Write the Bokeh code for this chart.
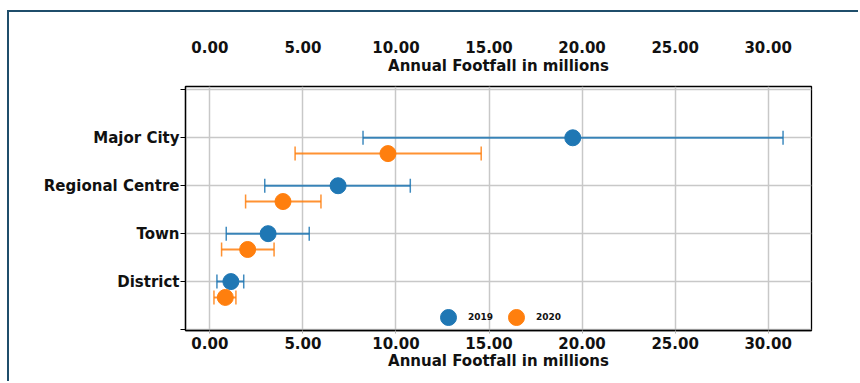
import math

from bokeh.plotting import figure
from bokeh.models import (FixedTicker, LinearAxis, PrintfTickFormatter,
                          Legend, LegendItem, ColumnDataSource)
from bokeh.embed import file_html
from bokeh.resources import INLINE

# Annual footfall (millions): central estimate with low/high range
categories = ["District", "Town", "Regional Centre", "Major City"]
years = ["2019", "2020"]
mid_2019 = [1.13, 3.13, 6.89, 19.50]
low_2019 = [0.38, 0.88, 2.95, 8.23]
high_2019 = [1.82, 5.34, 10.77, 30.80]
mid_2020 = [0.83, 2.03, 3.93, 9.57]
low_2020 = [0.22, 0.63, 1.92, 4.58]
high_2020 = [1.40, 3.45, 5.97, 14.58]
x_ticks = [0, 5, 10, 15, 20, 25, 30]
x_title = "Annual Footfall in millions"

FONT = "DejaVu Sans"
FONT_SIZE = "15px"
TEXT = "#111111"
COLORS = ["#1f77b4", "#ff7f0e"]
FRAME_BORDER = "#1f4e6b"

# one row per category, 2020 drawn just below 2019
y_base = [i + 1 for i in range(len(categories))]
y_ticks = [0] + y_base + [len(categories) + 1]
offsets = [0.0, -0.33]

all_lo = low_2019 + low_2020
all_hi = high_2019 + high_2020
pad = 0.05 * (max(all_hi) - min(all_lo))

p = figure(width=851, height=371,
           x_range=(min(all_lo) - pad, max(all_hi) + pad),
           y_range=(-0.02, 5.07),
           output_backend="svg", toolbar_location=None,
           min_border_left=176, min_border_right=49,
           min_border_top=74, min_border_bottom=53,
           margin=(10, 0, 0, 7),
           styles={"border-top": f"2px solid {FRAME_BORDER}",
                   "border-left": f"2px solid {FRAME_BORDER}"})
p.background_fill_color = "white"
p.border_fill_color = "white"
p.outline_line_color = "black"
p.outline_line_width = 1.3

xticker = FixedTicker(ticks=x_ticks)
yticker = FixedTicker(ticks=y_ticks)
fmt = PrintfTickFormatter(format="%.2f")

# grid
p.xgrid.ticker = xticker
p.ygrid.ticker = yticker
for g in (p.xgrid, p.ygrid):
    g.grid_line_color = "#c8c8c8"
    g.grid_line_width = 1.5

# bottom axis
xa = p.xaxis[0]
xa.ticker = xticker
xa.formatter = fmt
xa.axis_label = x_title
xa.axis_line_color = "black"
xa.axis_line_width = 1.3
xa.major_tick_out = 3
xa.major_tick_in = 0
xa.major_tick_line_color = "#b0b0b0"
xa.minor_tick_line_color = None
xa.major_label_standoff = 3
xa.axis_label_standoff = 0

# left axis
ya = p.yaxis[0]
ya.ticker = yticker
ya.major_label_overrides = {t: "" for t in y_ticks} | {
    y: c for y, c in zip(y_base, categories)}
ya.axis_line_color = "black"
ya.axis_line_width = 1.3
ya.major_tick_out = 5
ya.major_tick_in = 0
ya.major_tick_line_color = "black"
ya.minor_tick_line_color = None
ya.major_label_standoff = 1

# top: title line close to the frame, tick labels above it
top_title = LinearAxis(ticker=FixedTicker(ticks=[]), axis_label=x_title,
                       axis_line_color=None, major_tick_line_color=None,
                       minor_tick_line_color=None, major_label_standoff=0,
                       axis_label_standoff=12)
top_ticks = LinearAxis(ticker=xticker, formatter=fmt,
                       axis_line_color=None, major_tick_line_color=None,
                       minor_tick_line_color=None, major_tick_out=0,
                       major_label_standoff=1)
p.add_layout(top_title, "above")
p.add_layout(top_ticks, "above")

for ax in (xa, ya, top_title, top_ticks):
    ax.major_label_text_font = FONT
    ax.major_label_text_font_style = "bold"
    ax.major_label_text_font_size = FONT_SIZE
    ax.major_label_text_color = TEXT
    ax.axis_label_text_font = FONT
    ax.axis_label_text_font_style = "bold"
    ax.axis_label_text_font_size = FONT_SIZE
    ax.axis_label_text_color = TEXT

series = [(mid_2019, low_2019, high_2019), (mid_2020, low_2020, high_2020)]
markers = []
for (mid, lo, hi), off, color in zip(series, offsets, COLORS):
    src = ColumnDataSource(dict(y=[y + off for y in y_base], mid=mid, lo=lo, hi=hi))
    p.segment(x0="lo", x1="hi", y0="y", y1="y", source=src,
              line_color=color, line_width=2, line_alpha=0.85)
    for end in ("lo", "hi"):
        p.scatter(x=end, y="y", source=src, marker="dash", angle=math.pi / 2,
                  size=14, line_color=color, line_width=1.5, line_alpha=0.85)
    r = p.scatter(x="mid", y="y", source=src, marker="circle", size=16,
                  fill_color=color, line_color=color)
    markers.append(r)

legend = Legend(items=[LegendItem(label=yr, renderers=[r]) for yr, r in zip(years, markers)],
                orientation="horizontal", location=(243, -7),
                glyph_width=40, glyph_height=40, label_standoff=0,
                spacing=3, padding=0, margin=0,
                background_fill_alpha=0, border_line_color=None,
                label_text_font=FONT, label_text_font_style="bold",
                label_text_font_size="9px", label_text_color=TEXT)
p.add_layout(legend, "center")

open("out.html", "w").write(file_html(p, INLINE))
